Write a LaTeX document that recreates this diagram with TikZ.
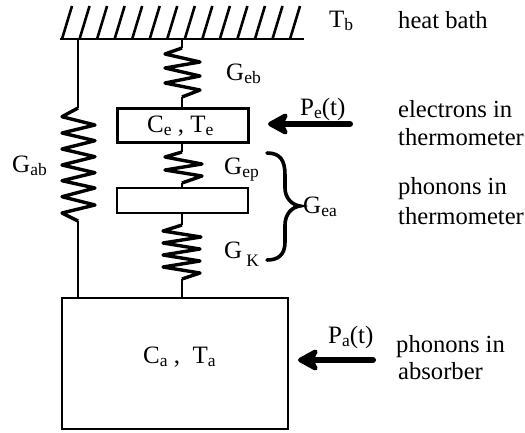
\documentclass[tikz,border=0pt]{standalone}
\usepackage{fontspec}
\setmainfont{Liberation Serif}
\usetikzlibrary{arrows.meta}
\newcommand\sbs[1]{\raisebox{-3.5pt}{\fontsize{17.5}{17.5}\selectfont #1}}
\tikzset{
  x=1pt,y=-1pt,
  wire/.style={line width=2.4pt,line join=round},
  spring/.style={line width=3.4pt,line join=round},
  block/.style={draw,line width=2.4pt,minimum width=131pt,inner sep=0pt,outer sep=0pt},
  lab/.style={inner sep=0pt,anchor=base west,font=\fontsize{25}{25}\selectfont},
  note/.style={inner sep=0pt,anchor=base west,font=\fontsize{24.6}{24.6}\selectfont},
  hatch/.style={line width=2.6pt},
  power/.style={line width=6pt,line cap=round,-{Stealth[length=25pt,width=27pt,inset=7pt,round]}}
}
\begin{document}
\begin{tikzpicture}
\useasboundingbox (0,0) rectangle (525,432);
% bath
\coordinate (bathL) at (60,39);
\coordinate (bathR) at (304,39);
\draw[wire] (bathL) -- (bathR);
\foreach \i in {0,...,13}{\draw[hatch] (62+17.54*\i,39) -- (72+17.54*\i,6);}
\coordinate (bathA) at (78,39);
\coordinate (bathB) at (182,39);
% boxes
\node[block,minimum height=34pt] (ce) at (183,125.5) {};
\node[block,minimum height=25pt] (ph) at (182.5,200.5) {};
\node[block,minimum width=226pt,minimum height=131pt] (abs) at (175,363.5) {};
\coordinate (absL) at (78,298);
\coordinate (absT) at (182,298);
% side wire
\draw[wire] (bathA) -- (78,108);
\draw[spring] (78,108) -- (62,116.7) -- (95,125) -- (62,133) -- (95,140.7) -- (62,149) -- (95,156.7)
  -- (62,165) -- (95,172.7) -- (62,180.7) -- (95,188) -- (62,196.7) -- (95,205) -- (62,213) -- (78,221);
\draw[wire] (78,221) -- (absL);
% centre springs
\draw[wire] (bathB) -- (182,48);
\draw[spring] (182,48) -- (165,54) -- (200,62) -- (165,68) -- (200,76) -- (165,83) -- (200,90) -- (182,97);
\draw[wire] (182,97) -- (ce.north -| bathB);
\draw[wire] (ce.south -| bathB) -- (182,152);
\draw[spring] (182,152) -- (165,157) -- (202,164) -- (165,170) -- (202,176) -- (182,183);
\draw[wire] (182,183) -- (ph.north -| bathB);
\draw[wire] (ph.south -| bathB) -- (182,225);
\draw[spring] (182,225) -- (163,231) -- (201,237) -- (163,243) -- (200,249) -- (163,255) -- (200,261) -- (163,267) -- (200,273) -- (182,279);
\draw[wire] (182,279) -- (absT);
% labels
\node[lab] (cetext) at (147,132) {C\sbs{e} , T\sbs{e}};
\node[lab] (catext) at (143,363) {C\sbs{a} ,\ \ T\sbs{a}};
\node[lab] (tb) at (329,27) {T\sbs{b}};
\node[note] (hb) at (398,28) {heat bath};
\node[lab] (geb) at (226,80) {G\sbs{eb}};
\node[lab] (gab) at (12,172) {G\sbs{ab}};
\node[lab] (gep) at (224,174) {G\sbs{ep}};
\node[lab] (gea) at (303,213) {G\sbs{ea}};
\node[lab] (gk) at (224,258) {G\,\raisebox{-8pt}{\fontsize{17.5}{17.5}\selectfont K}};
\node[lab] (pe) at (300,115) {P\sbs{e}(t)};
\node[lab] (pa) at (328,343) {P\sbs{a}(t)};
\node[note] (n1) at (398,117) {electrons in};
\node[note] (n2) at (398,145) {thermometer};
\node[note] (n3) at (398,194) {phonons in};
\node[note] (n4) at (398,224) {thermometer};
\node[note] (n5) at (396,352) {phonons in};
\node[note] (n6) at (398,379) {absorber};
% arrows
\coordinate (peS) at (350,124);
\coordinate (peE) at (268,124);
\coordinate (paS) at (373,360);
\coordinate (paE) at (298,360);
\draw[power] (peS) -- (peE);
\draw[power] (paS) -- (paE);
% brace
\draw[line width=3.6pt,line cap=round]
 (267,153) .. controls (280,153) and (285,160) .. (285,175)
 -- (285,188) .. controls (285,198) and (292,205) .. (300,206)
 .. controls (292,207) and (285,214) .. (285,225)
 -- (285,242) .. controls (285,255) and (278,260) .. (267,260);
\end{tikzpicture}
\end{document}
